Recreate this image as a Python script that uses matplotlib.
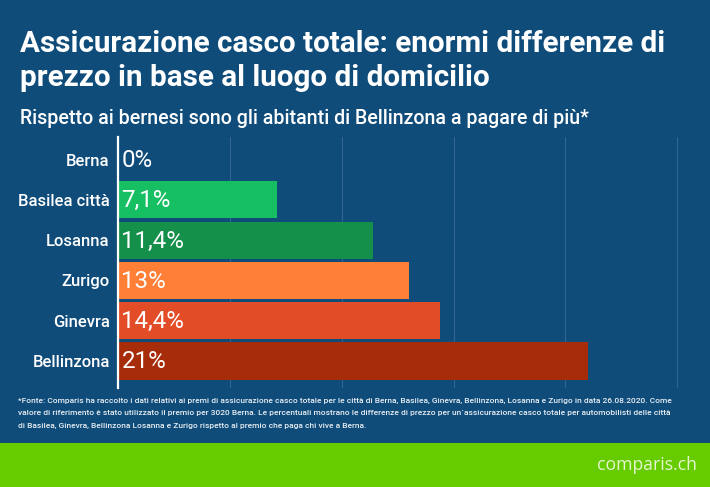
#!/usr/bin/env python3
# -*- coding: utf-8 -*-
import matplotlib
matplotlib.use('Agg')
import matplotlib.pyplot as plt

W, H = 710, 487
BG = '#0F4C7A'
FOOTER = '#66CC00'

cities = ['Berna', 'Basilea città', 'Losanna', 'Zurigo', 'Ginevra', 'Bellinzona']
values = [0, 7.1, 11.4, 13, 14.4, 21]
value_labels = ['0%', '7,1%', '11,4%', '13%', '14,4%', '21%']
bar_colors = ['#17BF63', '#17BF63', '#14904B', '#FF7F37', '#E24C26', '#A62C0A']
x_ticks = [0, 5, 10, 15, 20, 25]

title = 'Assicurazione casco totale: enormi differenze di\nprezzo in base al luogo di domicilio'
subtitle = 'Rispetto ai bernesi sono gli abitanti di Bellinzona a pagare di più*'
note_lines = [
    '*Fonte: Comparis ha raccolto i dati relativi ai premi di assicurazione casco totale per le città di Berna, Basilea, Ginevra, Bellinzona, Losanna e Zurigo in data 26.08.2020. Come',
    'valore di riferimento è stato utilizzato il premio per 3020 Berna. Le percentuali mostrano le differenze di prezzo per un´assicurazione casco totale per automobilisti delle città',
    'di Basilea, Ginevra, Bellinzona Losanna e Zurigo rispetto al premio che paga chi vive a Berna.',
]

plt.rcParams['font.family'] = ['Roboto', 'DejaVu Sans']

fig = plt.figure(figsize=(W / 100, H / 100), dpi=100, facecolor=BG)

# green strip at the bottom
strip = fig.add_axes([0, 0, 1, 44 / H])
strip.set_facecolor(FOOTER)
strip.set_xticks([])
strip.set_yticks([])
for s in strip.spines.values():
    s.set_visible(False)

# plot area in pixels: x 118..677, y 137..388
ax = fig.add_axes([118 / W, (H - 388) / H, 560 / W, 251 / H], facecolor=BG)
ax.barh(range(len(cities)), values, height=0.92, color=bar_colors, zorder=2)
ax.set_xlim(0, 25.03)
ax.set_ylim(5 + 27 / 40.3, -22.5 / 40.3)
ax.set_xticks(x_ticks)
ax.set_xticklabels([])
ax.set_yticks(range(len(cities)))
ax.set_yticklabels(cities, color='white', fontsize=12, fontweight='medium')
ax.tick_params(axis='both', length=0, pad=6)
ax.grid(axis='x', color='#3A6C93', lw=0.6, zorder=1)
for s in ['top', 'right', 'bottom']:
    ax.spines[s].set_visible(False)
ax.spines['left'].set_color('white')
ax.spines['left'].set_linewidth(1.6)

for i, lab in enumerate(value_labels):
    ax.annotate(lab, (0, i), xytext=(2.5, -0.7), textcoords='offset points', color='white',
                fontsize=17.4, va='center', ha='left', zorder=3)

fig.text(20 / W, 1 - 30 / H, title, color='white', fontsize=21.3, fontweight='bold',
         va='top', ha='left', linespacing=1.29)
fig.text(20 / W, 1 - 118.5 / H, subtitle, color='white', fontsize=14.1, fontweight='medium',
         va='center', ha='left')

for i, line in enumerate(note_lines):
    fig.text(18 / W, 1 - (400.5 + i * 12.8) / H, line, color='#E8EEF3', fontsize=6.05,
             fontweight='medium', va='center', ha='left')

fig.text(697 / W, 1 - 465 / H, 'comparis.ch', color='#E4F5D0', fontsize=12.7,
         family=['Open Sans', 'DejaVu Sans'], va='center', ha='right')

fig.savefig('out.png', dpi=100, facecolor=BG)
